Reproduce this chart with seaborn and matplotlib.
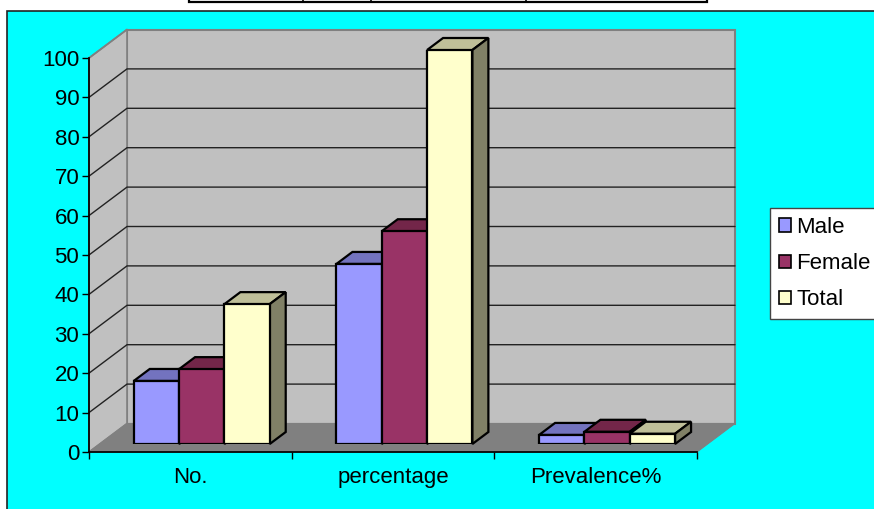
import matplotlib
matplotlib.use("Agg")
import matplotlib.pyplot as plt
from matplotlib.patches import Polygon, Rectangle
from matplotlib.lines import Line2D
import pandas as pd
import seaborn as sns

categories = ["No.", "percentage", "Prevalence%"]
series_names = ["Male", "Female", "Total"]
male = [16, 45.7, 2.3]
female = [19, 54, 3.1]
total = [35.5, 100, 2.6]
y_ticks = list(range(0, 101, 10))

face_colors = ["#9999ff", "#993366", "#ffffcc"]
top_colors = ["#7373bf", "#732649", "#bfbf99"]
side_colors = ["#4d4d80", "#4d1933", "#808066"]

W, H = 874, 509
sns.set_theme(style="white")
plt.rcParams["font.family"] = ["Liberation Sans", "DejaVu Sans"]
plt.rcParams["text.color"] = "black"
plt.rcParams["ytick.color"] = "black"

df = pd.DataFrame({
    "category": categories * 3,
    "series": [s for s in series_names for _ in categories],
    "value": male + female + total,
})


def box(x0, y0, x1, y1):
    # pixel box (top-left origin) to figure fractions
    return [x0 / W, 1 - y1 / H, (x1 - x0) / W, (y1 - y0) / H]


fig = plt.figure(figsize=(W / 100, H / 100), dpi=100, facecolor="white")

# cyan chart area and the bit of table cut off above it
fig.add_artist(Rectangle((7 / W, -0.01), 1.0, 1 - 11 / H + 0.01, transform=fig.transFigure,
                         fc="#00ffff", ec="#222222", lw=1.2, zorder=-2))
fig.add_artist(Rectangle((188.5 / W, 1 - 2 / H), 518 / W, 0.02, transform=fig.transFigure,
                         fc="white", ec="black", lw=1.6, zorder=-2))
for px in [302.5, 371, 526]:
    fig.add_artist(Line2D([px / W, px / W], [1 - 2 / H, 1], transform=fig.transFigure, color="black", lw=1.2, zorder=-1))

# front plane of the box, carries the axes
ax = fig.add_axes(box(89, 58, 697, 452))
ax.set_facecolor("none")
ax.set_xlim(0, 3)
ax.set_ylim(0, 100)

px_x = 3 / 608
px_y = 100 / 394
dx = 38 * px_x
dy = 28.5 * px_y

ax.add_patch(Polygon([(dx, dy), (3 + dx, dy), (3 + dx, 100 + dy), (dx, 100 + dy)], closed=True,
                     fc="#c0c0c0", ec="#808080", lw=1.5, clip_on=False, zorder=0))
ax.add_patch(Polygon([(0, 0), (dx, dy), (dx, 100 + dy), (0, 100)], closed=True,
                     fc="#c0c0c0", ec="#808080", lw=1.2, clip_on=False, zorder=0))
ax.add_patch(Polygon([(0, 0), (3, 0), (3 + dx, dy), (dx, dy)], closed=True,
                     fc="#808080", ec="#808080", lw=0.8, clip_on=False, zorder=0))
for t in y_ticks[1:-1]:
    ax.plot([0, dx, 3 + dx], [t, t + dy, t + dy], color="#222222", lw=1.0, clip_on=False, zorder=1)
ax.plot([0, dx], [100, 100 + dy], color="#808080", lw=1.2, clip_on=False, zorder=1)

ax.set_xticks([0, 1, 2, 3])
ax.set_xticklabels([])
ax.set_yticks(y_ticks)
ax.set_yticklabels([str(t) for t in y_ticks])
ax.tick_params(axis="y", length=5, width=1, color="black", labelsize=16, pad=2, left=True)
ax.tick_params(axis="x", length=5, width=1, color="black", bottom=True)
for side in ["top", "right"]:
    ax.spines[side].set_visible(False)
ax.spines["left"].set_color("black")
ax.spines["bottom"].set_color("black")
for i, c in enumerate(categories):
    ax.text(i + 0.5, -6.4, c, ha="center", va="center", fontsize=16, color="black", clip_on=False)

# bars sit a bit into the box
ax_bars = fig.add_axes(box(100.4, 50, 708.4, 444))
ax_bars.set_facecolor("none")
sns.barplot(data=df, x="category", y="value", hue="series", order=categories, hue_order=series_names,
            palette=face_colors, width=136 / 202.7, gap=0, saturation=1,
            edgecolor="black", linewidth=1.6, legend=False, ax=ax_bars)
ax_bars.set_xlim(-0.5, 2.5)
ax_bars.set_ylim(0, 100)
ax_bars.axis("off")

bar_dx = 16 / 202.7
bar_dy = 12 * px_y
bars = [p for p in ax_bars.patches if p.get_width() > 0]
for n, p in enumerate(bars):
    s = n // 3
    x0, x1 = p.get_x(), p.get_x() + p.get_width()
    h = p.get_height()
    p.set_zorder(3)
    ax_bars.add_patch(Polygon([(x0, h), (x1, h), (x1 + bar_dx, h + bar_dy), (x0 + bar_dx, h + bar_dy)], closed=True,
                              fc=top_colors[s], ec="black", lw=1.6, clip_on=False, zorder=2))
    ax_bars.add_patch(Polygon([(x1, 0), (x1 + bar_dx, bar_dy), (x1 + bar_dx, h + bar_dy), (x1, h)], closed=True,
                              fc=side_colors[s], ec="black", lw=1.6, clip_on=False, zorder=2))

# legend box runs off the right edge
handles = [Rectangle((0, 0), 1, 1, fc=c, ec="black", lw=1.2) for c in face_colors]
leg = fig.legend(handles, series_names, loc="upper left", bbox_to_anchor=(770 / W, 1 - 208 / H), fontsize=16,
                 frameon=True, fancybox=False, framealpha=1, facecolor="white", edgecolor="#444444",
                 handlelength=0.54, handleheight=0.54, handletextpad=0.25, labelspacing=0.68,
                 borderaxespad=0, borderpad=0.4)
leg.get_frame().set_linewidth(1.0)

fig.savefig("out.png", dpi=100, facecolor="white")
